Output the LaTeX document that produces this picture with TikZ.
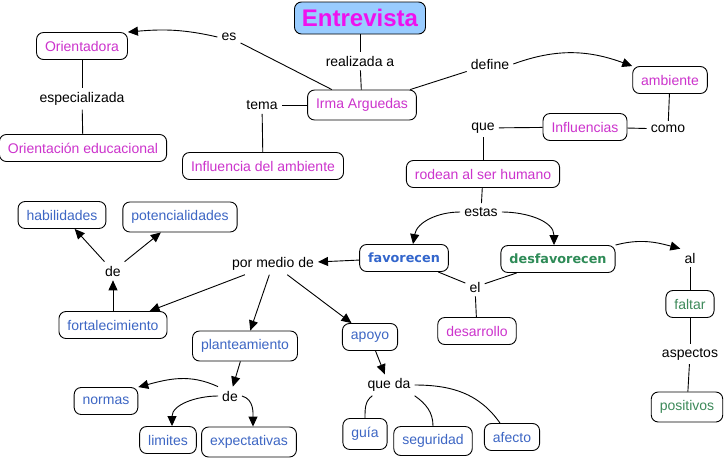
\documentclass[tikz,border=0pt]{standalone}
\usepackage{fontspec}
\setmainfont{Liberation Sans}
\newfontfamily\verdfont{DejaVu Sans}
\usepackage{xcolor}
\usepackage{tikz}
\usetikzlibrary{arrows.meta}
\definecolor{topicfill}{HTML}{99CCFF}
\definecolor{topicpink}{HTML}{EE11EE}
\definecolor{cmappink}{HTML}{CC33CC}
\definecolor{cmapblue}{HTML}{3D66C4}
\definecolor{favblue}{HTML}{3366CC}
\definecolor{desgreen}{HTML}{2E8B57}
\definecolor{cmapgreen}{HTML}{3D8A5A}
\tikzset{
  concept/.style={
    rectangle, rounded corners=7pt, draw=black, line width=0.9pt, fill=white,
    text=#1, font=\fontsize{14}{16}\selectfont,
    inner xsep=8.5pt, minimum height=27pt
  },
  concept/.default=cmappink,
  conceptbold/.style={
    concept=#1, font=\verdfont\bfseries\fontsize{12.8}{15}\selectfont
  },
  topic/.style={
    rectangle, rounded corners=7pt, draw=black, line width=0.9pt, fill=topicfill,
    text=topicpink, font=\bfseries\fontsize{24}{28}\selectfont,
    inner xsep=7.5pt, minimum height=32pt
  },
  linkword/.style={
    font=\fontsize{14}{16}\selectfont, text=black, inner sep=4pt
  },
  link/.style={line width=0.9pt},
  linkarrow/.style={line width=0.9pt, -{Triangle[length=10pt,width=9pt]}},
}
\begin{document}
\begin{tikzpicture}[x=1pt,y=1pt]
  \useasboundingbox (0,0) rectangle (725,-459);
  % concepts and linking words
  \node[topic] (entrev) at (360,-18) {Entrevista};
  \node[concept] (orient) at (82,-46) {Orientadora};
  \node[linkword] (espec) at (82,-99) {especializada};
  \node[concept] (oredu) at (83,-148) {Orientación educacional};
  \node[linkword] (es) at (229,-37) {es};
  \node[linkword] (realiz) at (360,-61) {realizada a};
  \node[concept, minimum height=30pt] (irma) at (362,-105) {Irma Arguedas};
  \node[linkword] (tema) at (262,-105) {tema};
  \node[concept] (infamb) at (263,-166) {Influencia del ambiente};
  \node[linkword] (define) at (490,-64) {define};
  \node[concept] (amb) at (670,-80) {ambiente};
  \node[linkword] (como) at (668,-129) {como};
  \node[concept] (influ) at (585,-127) {Influencias};
  \node[linkword] (que) at (483,-128) {que};
  \node[concept] (rodean) at (483,-174) {rodean al ser humano};
  \node[linkword] (estas) at (481,-212) {estas};
  \node[conceptbold=favblue] (fav) at (404,-258) {favorecen};
  \node[conceptbold=desgreen] (desfav) at (558,-259) {desfavorecen};
  \node[linkword] (porm) at (273,-264) {por medio de};
  \node[linkword] (el) at (475,-287) {el};
  \node[concept] (desarr) at (477,-331) {desarrollo};
  \node[linkword] (al) at (690,-258) {al};
  \node[concept=cmapgreen] (faltar) at (690,-304) {faltar};
  \node[linkword] (aspect) at (690,-354) {aspectos};
  \node[concept=cmapgreen, minimum height=30pt] (posit) at (687,-407) {positivos};
  \node[concept=cmapblue] (habil) at (62,-215) {habilidades};
  \node[concept=cmapblue, minimum height=30pt] (poten) at (180,-217) {potencialidades};
  \node[linkword] (deA) at (113,-271) {de};
  \node[concept=cmapblue] (fortal) at (113,-325) {fortalecimiento};
  \node[concept=cmapblue, minimum height=30pt] (plant) at (245,-346) {planteamiento};
  \node[concept=cmapblue] (apoyo) at (370,-337) {apoyo};
  \node[linkword] (deB) at (230,-396) {de};
  \node[concept=cmapblue] (normas) at (106,-401) {normas};
  \node[concept=cmapblue] (limit) at (168,-440) {limites};
  \node[concept=cmapblue, minimum height=30pt] (expect) at (249,-442) {expectativas};
  \node[linkword] (queda) at (389,-385) {que da};
  \node[concept=cmapblue, minimum height=31pt] (guia) at (365,-434) {guía};
  \node[concept=cmapblue, minimum height=29pt] (segur) at (433,-441) {seguridad};
  \node[concept=cmapblue] (afecto) at (512,-437) {afecto};
  % connectors
  \draw[link] (entrev) -- (realiz);
  \draw[link] (realiz) -- (irma);
  \draw[link] (irma) -- (es);
  \draw[linkarrow] (es.west) to[out=167,in=5] (orient.north east);
  \draw[link] (orient) -- (espec);
  \draw[link] (espec) -- (oredu);
  \draw[link] (irma) -- (tema);
  \draw[link] (tema) -- (infamb);
  \draw[link] (irma) -- (define);
  \draw[linkarrow] (define.east) to[out=20,in=160] (amb.north west);
  \draw[link] (amb) -- (como);
  \draw[link] (como) -- (influ);
  \draw[link] (influ) -- (que);
  \draw[link] (que) -- (rodean);
  \draw[link] (rodean) -- (estas);
  \draw[linkarrow] (estas.west) to[out=180,in=80] ([xshift=9pt]fav.north);
  \draw[linkarrow] (estas.east) to[out=0,in=90] ([xshift=-4pt]desfav.north);
  \draw[linkarrow] (fav) -- (porm);
  \draw[link] (fav) -- (el);
  \draw[link] (desfav) -- (el);
  \draw[link] (el) -- (desarr);
  \draw[linkarrow] (desfav.north east) to[out=15,in=165] (al.north west);
  \draw[link] (al) -- (faltar);
  \draw[link] (faltar) -- (aspect);
  \draw[link] (aspect) -- (posit);
  \draw[linkarrow] (porm) -- (fortal);
  \draw[linkarrow] (porm) -- (plant);
  \draw[linkarrow] (porm) -- (apoyo);
  \draw[linkarrow] (fortal) -- (deA);
  \draw[linkarrow] (deA) -- (habil);
  \draw[linkarrow] (deA) -- (poten);
  \draw[linkarrow] (plant) -- (deB);
  \draw[linkarrow] (deB.north west) to[out=155,in=15] (normas.north east);
  \draw[linkarrow] (deB.west) to[out=180,in=90] ([xshift=4pt]limit.north);
  \draw[linkarrow] (deB.east) to[out=-15,in=90] ([xshift=4pt]expect.north);
  \draw[linkarrow] (apoyo) -- (queda);
  \draw[link] ([xshift=9pt]queda.south west) to[out=215,in=90] (guia.north);
  \draw[link] (queda.south east) to[out=-35,in=90] (segur.north);
  \draw[link] (queda.east) to[out=0,in=125] ([xshift=-12pt]afecto.north);
\end{tikzpicture}
\end{document}
